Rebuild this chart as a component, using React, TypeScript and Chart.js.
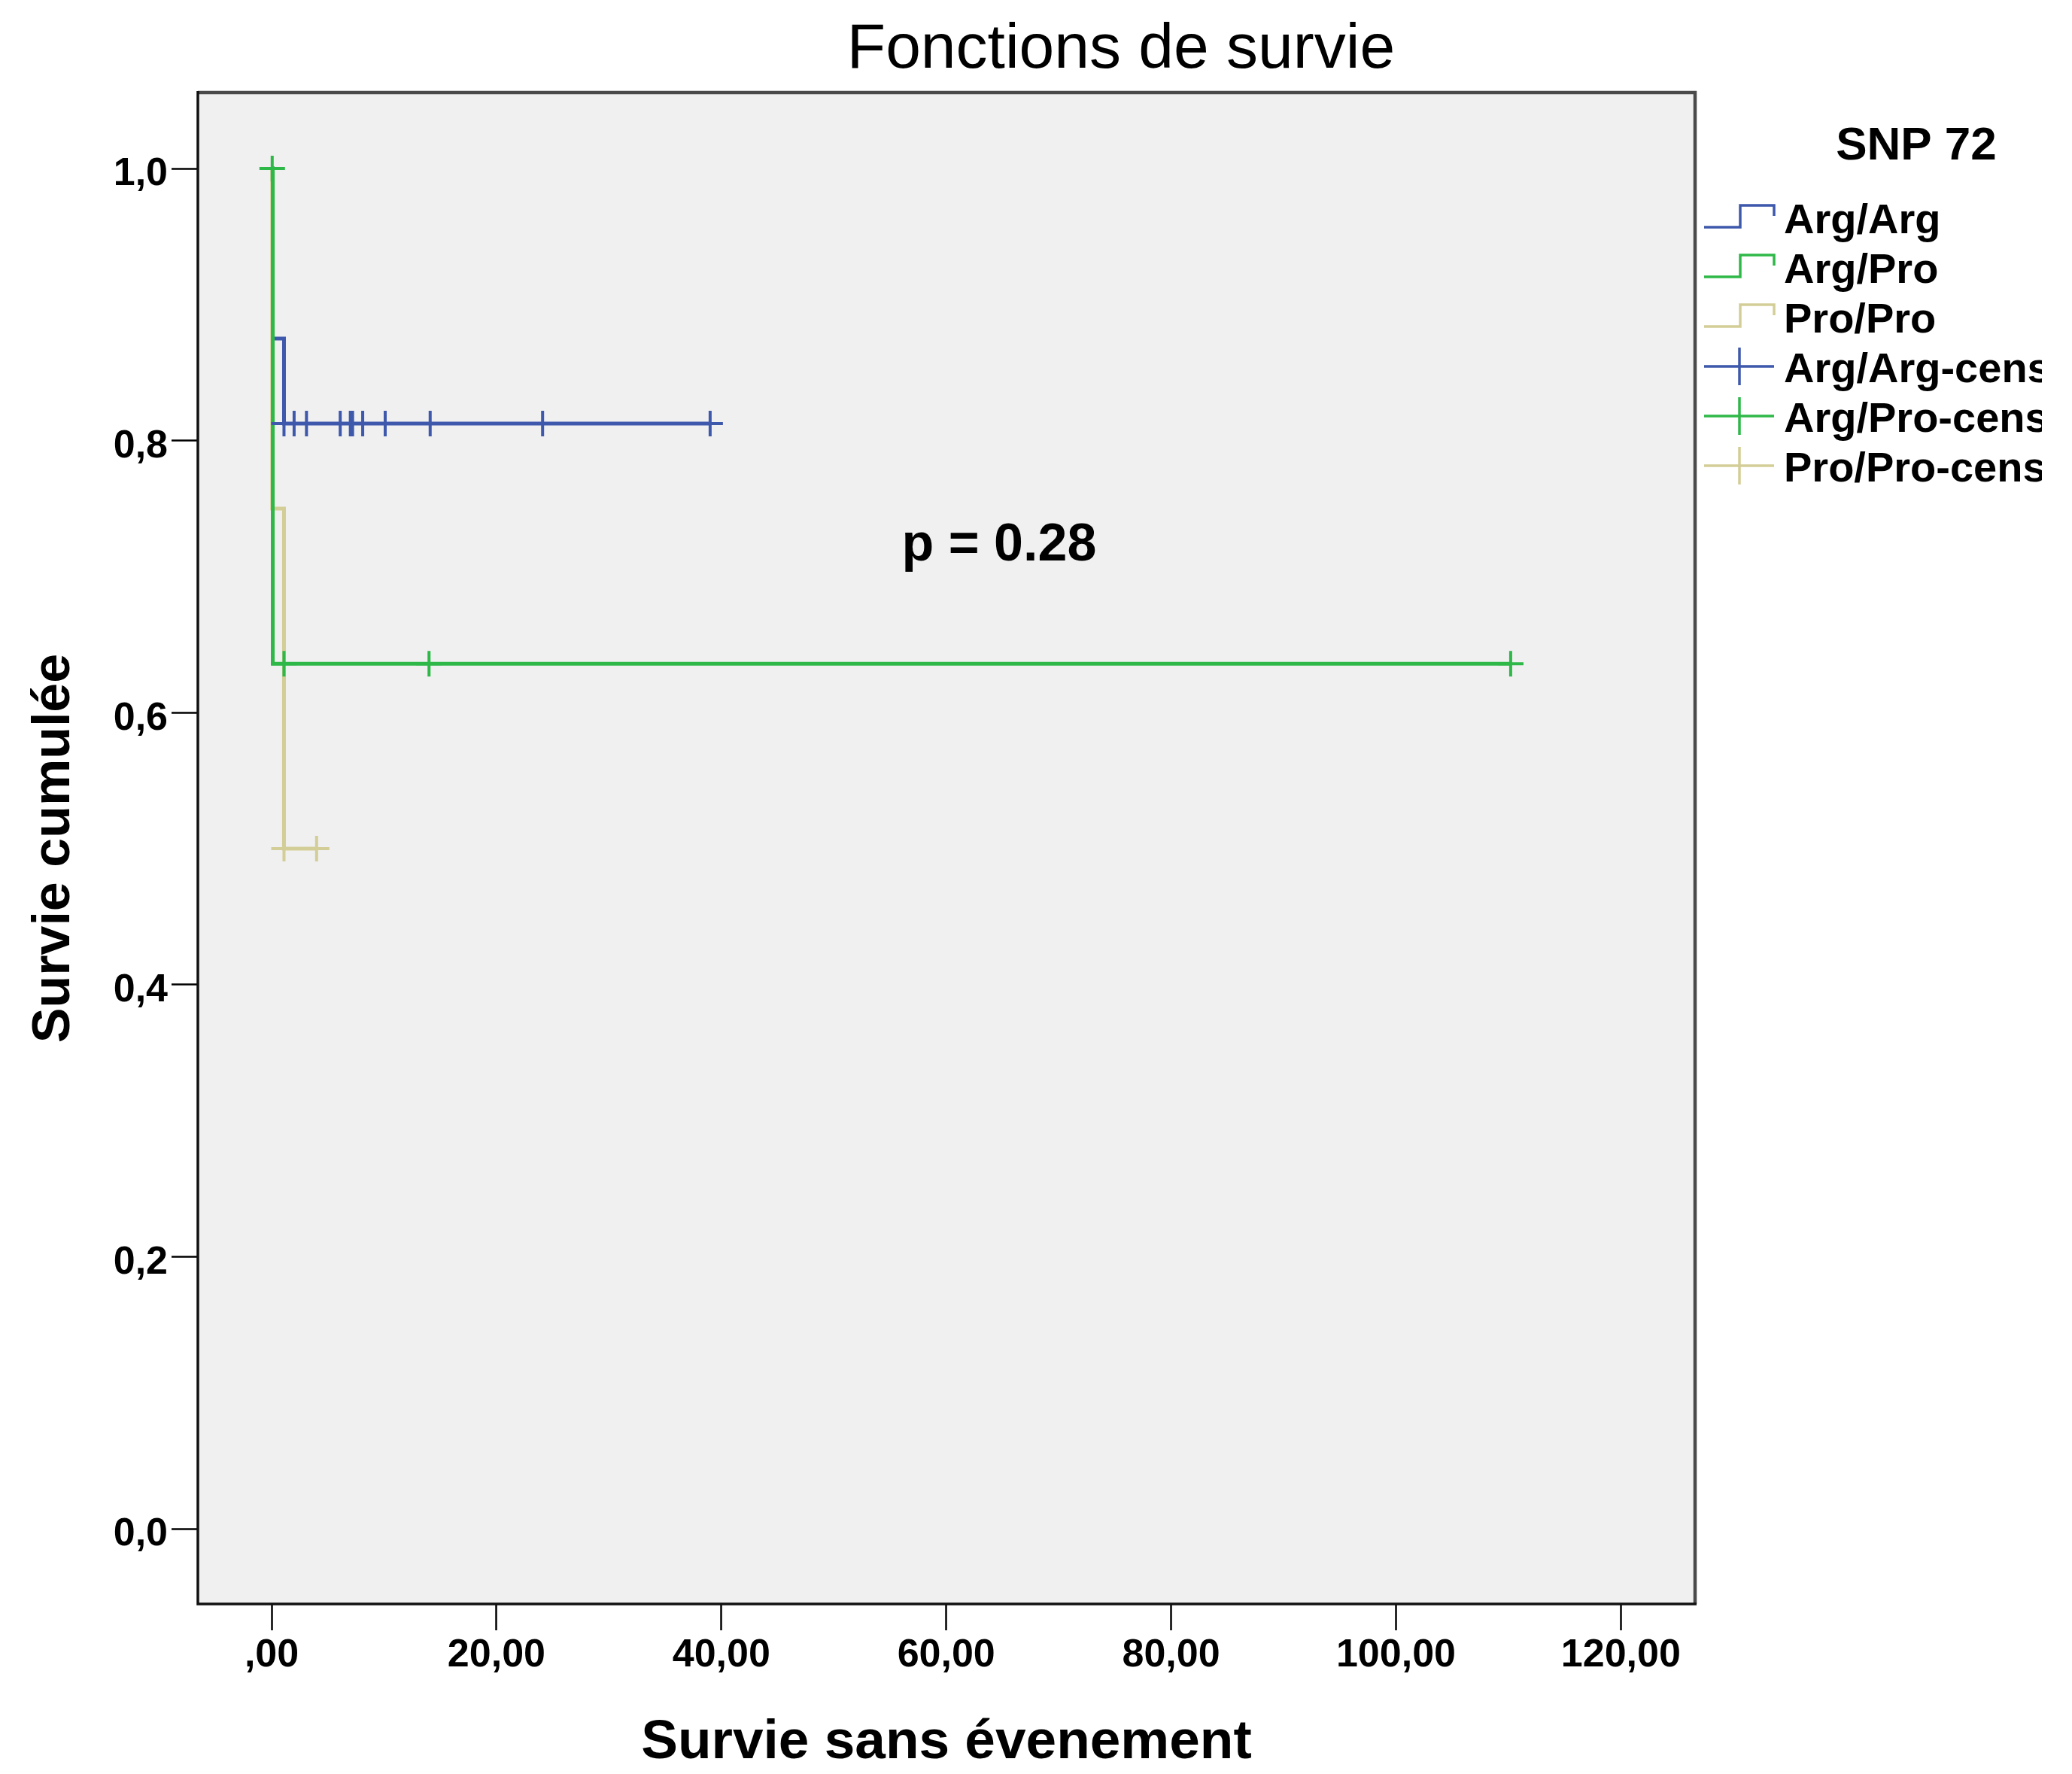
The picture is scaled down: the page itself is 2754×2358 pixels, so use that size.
import React, { useEffect, useRef } from "react";
import { Chart, registerables } from "chart.js";

Chart.register(...registerables);

const FONT = '"Liberation Sans", Arial, Helvetica, sans-serif';

// ---- Data -----------------------------------------------------------------
const chartTitle = "Fonctions de survie";
const legendTitle = "SNP 72";
const xAxisTitle = "Survie sans évenement";
const yAxisTitle = "Survie cumulée";
const pValueText = "p = 0.28";
const pValuePos = { t: 64.7, s: 0.712 };

const seriesNames = ["Arg/Arg", "Arg/Pro", "Pro/Pro"];
const censorNames = ["Arg/Arg-censuré", "Arg/Pro-censuré", "Pro/Pro-censuré"];
const seriesColors = ["#3E58AC", "#2EB848", "#D3CE97"];

// Kaplan-Meier step points (time, cumulative survival)
const argArgTimes = [0, 0.1, 1.1, 39.0];
const argArgSurvival = [1.0, 0.875, 0.8125, 0.8125];
const argArgCensorTimes = [1.1, 2.0, 3.1, 6.1, 7.0, 7.2, 8.1, 10.1, 14.1, 24.1, 39.0];
const argArgCensorSurvival = [0.8125, 0.8125, 0.8125, 0.8125, 0.8125, 0.8125, 0.8125, 0.8125, 0.8125, 0.8125, 0.8125];

const argProTimes = [0, 0.1, 110.2];
const argProSurvival = [1.0, 0.636, 0.636];
const argProCensorTimes = [0.05, 1.1, 14.0, 110.2];
const argProCensorSurvival = [1.0, 0.636, 0.636, 0.636];

const proProTimes = [0, 0.05, 1.1, 4.0];
const proProSurvival = [1.0, 0.75, 0.5, 0.5];
const proProCensorTimes = [1.1, 4.0];
const proProCensorSurvival = [0.5, 0.5];

const xTickValues = [0, 20, 40, 60, 80, 100, 120];
const xTickLabels = [",00", "20,00", "40,00", "60,00", "80,00", "100,00", "120,00"];
const yTickValues = [0, 0.2, 0.4, 0.6, 0.8, 1.0];
const yTickLabels = ["0,0", "0,2", "0,4", "0,6", "0,8", "1,0"];

const xMin = -6.56;
const xMax = 126.6;
const yMin = -0.0553;
const yMax = 1.0559;

// ---- Helpers ----------------------------------------------------------------
const toPoints = (xs: number[], ys: number[]) => xs.map((x, i) => ({ x, y: ys[i] }));

const lineTimes = [argArgTimes, argProTimes, proProTimes];
const lineSurv = [argArgSurvival, argProSurvival, proProSurvival];
const censTimes = [argArgCensorTimes, argProCensorTimes, proProCensorTimes];
const censSurv = [argArgCensorSurvival, argProCensorSurvival, proProCensorSurvival];
// drawing order (lower = drawn later / on top)
const lineOrder = [12, 10, 11];

const W = 2754;
const H = 2358;

const decorPlugin = {
  id: "spssDecor",
  beforeDraw(chart: any) {
    const { ctx, chartArea: a } = chart;
    ctx.save();
    ctx.fillStyle = "#f0f0f0";
    ctx.fillRect(a.left, a.top, a.right - a.left, a.bottom - a.top);
    ctx.restore();
  },
  afterDraw(chart: any) {
    const { ctx, chartArea: a, scales } = chart;
    ctx.save();
    // frame
    ctx.lineCap = "butt";
    ctx.strokeStyle = "#4a4a4a";
    ctx.lineWidth = 4.5;
    ctx.beginPath();
    ctx.moveTo(a.left, a.top);
    ctx.lineTo(a.right, a.top);
    ctx.lineTo(a.right, a.bottom);
    ctx.stroke();
    ctx.strokeStyle = "#111";
    ctx.lineWidth = 3.5;
    ctx.beginPath();
    ctx.moveTo(a.left, a.top - 2);
    ctx.lineTo(a.left, a.bottom);
    ctx.lineTo(a.right + 2, a.bottom);
    ctx.stroke();

    // title
    ctx.fillStyle = "#000";
    ctx.textAlign = "center";
    ctx.textBaseline = "alphabetic";
    ctx.font = `84px ${FONT}`;
    ctx.fillText(chartTitle, 1490, 90);

    // p-value annotation
    ctx.font = `bold 70px ${FONT}`;
    ctx.fillText(
      pValueText,
      scales.x.getPixelForValue(pValuePos.t),
      scales.y.getPixelForValue(pValuePos.s)
    );

    // legend
    ctx.font = `bold 62px ${FONT}`;
    ctx.fillText(legendTitle, 2547, 212);

    ctx.beginPath();
    ctx.rect(2255, 220, 2714 - 2255, 460);
    ctx.clip();

    const x0 = 2265;
    const symW = 93;
    const textX = 2371;
    const base0 = 310;
    const step = 66;
    ctx.textAlign = "left";
    ctx.font = `bold 56px ${FONT}`;
    seriesNames.forEach((name, i) => {
      const b = base0 + i * step;
      ctx.strokeStyle = seriesColors[i];
      ctx.lineWidth = 3.5;
      ctx.beginPath();
      ctx.moveTo(x0, b - 8);
      ctx.lineTo(x0 + 48, b - 8);
      ctx.lineTo(x0 + 48, b - 37);
      ctx.lineTo(x0 + symW, b - 37);
      ctx.lineTo(x0 + symW, b - 23);
      ctx.stroke();
      ctx.fillStyle = "#000";
      ctx.fillText(name, textX, b);
    });
    censorNames.forEach((name, i) => {
      const b = base0 + (i + 3) * step;
      ctx.strokeStyle = seriesColors[i];
      ctx.lineWidth = 3.5;
      ctx.beginPath();
      ctx.moveTo(x0, b - 21);
      ctx.lineTo(x0 + symW, b - 21);
      ctx.moveTo(x0 + 47, b - 46);
      ctx.lineTo(x0 + 47, b + 4);
      ctx.stroke();
      ctx.fillStyle = "#000";
      ctx.fillText(name, textX, b);
    });
    ctx.restore();
  },
};

export default function App() {
  const canvasRef = useRef<HTMLCanvasElement | null>(null);

  useEffect(() => {
    const canvas = canvasRef.current;
    if (!canvas) return;

    const lineSets = seriesNames.map((name, i) => ({
      label: name,
      data: toPoints(lineTimes[i], lineSurv[i]),
      borderColor: seriesColors[i],
      backgroundColor: seriesColors[i],
      borderWidth: 5,
      stepped: true,
      pointRadius: 0,
      fill: false,
      showLine: true,
      order: lineOrder[i],
    }));
    const censorSets = censorNames.map((name, i) => ({
      label: name,
      data: toPoints(censTimes[i], censSurv[i]),
      borderColor: seriesColors[i],
      backgroundColor: seriesColors[i],
      showLine: false,
      pointStyle: "cross",
      pointRadius: 17,
      pointBorderWidth: 4,
      pointBorderColor: seriesColors[i],
      order: i,
    }));

    const chart = new Chart(canvas, {
      type: "line",
      data: { datasets: [...lineSets, ...censorSets] as any },
      options: {
        animation: false,
        responsive: false,
        devicePixelRatio: 1,
        layout: { padding: { left: 0, top: 123, right: W - 2253, bottom: 0 } },
        plugins: {
          legend: { display: false },
          title: { display: false },
          tooltip: { enabled: false },
        },
        scales: {
          x: {
            type: "linear",
            min: xMin,
            max: xMax,
            afterFit: (s: any) => {
              s.height = H - 2132;
            },
            afterBuildTicks: (s: any) => {
              s.ticks = xTickValues.map((v) => ({ value: v }));
            },
            border: { display: false },
            grid: {
              drawOnChartArea: false,
              drawTicks: true,
              tickLength: 35,
              tickWidth: 2.5,
              tickColor: "#000",
            },
            ticks: {
              color: "#000",
              padding: 2,
              maxRotation: 0,
              autoSkip: false,
              font: { family: FONT, size: 52, weight: "bold", lineHeight: 1.2 },
              callback: (v: any) => {
                const idx = xTickValues.indexOf(Number(v));
                return idx >= 0 ? xTickLabels[idx] : "";
              },
            },
            title: {
              display: true,
              text: xAxisTitle,
              color: "#000",
              padding: { top: 0, bottom: 5 },
              font: { family: FONT, size: 73, weight: "bold", lineHeight: 1 },
            },
          },
          y: {
            type: "linear",
            min: yMin,
            max: yMax,
            afterFit: (s: any) => {
              s.width = 263;
            },
            afterBuildTicks: (s: any) => {
              s.ticks = yTickValues.map((v) => ({ value: v }));
            },
            border: { display: false },
            grid: {
              drawOnChartArea: false,
              drawTicks: true,
              tickLength: 35,
              tickWidth: 2.5,
              tickColor: "#000",
            },
            ticks: {
              color: "#000",
              padding: 5,
              labelOffset: 8,
              autoSkip: false,
              font: { family: FONT, size: 52, weight: "bold", lineHeight: 1.2 },
              callback: (v: any) => {
                const idx = yTickValues.findIndex((t) => Math.abs(t - Number(v)) < 1e-9);
                return idx >= 0 ? yTickLabels[idx] : "";
              },
            },
            title: {
              display: true,
              text: yAxisTitle,
              color: "#000",
              padding: { top: 38, bottom: 0 },
              font: { family: FONT, size: 70, weight: "bold", lineHeight: 1 },
            },
          },
        },
      },
      plugins: [decorPlugin],
    });

    return () => chart.destroy();
  }, []);

  return (
    <div style={{ position: "absolute", left: 0, top: 0, width: W, height: H, background: "#fff" }}>
      <canvas ref={canvasRef} width={W} height={H} style={{ display: "block", width: W, height: H }} />
    </div>
  );
}
